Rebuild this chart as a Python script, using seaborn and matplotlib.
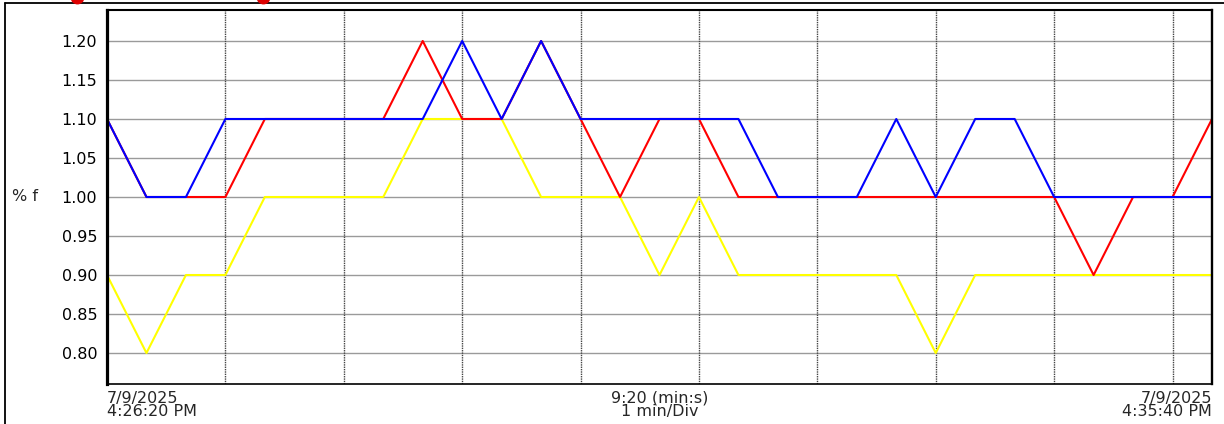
import numpy as np
import pandas as pd
import matplotlib
matplotlib.use("Agg")
import matplotlib.pyplot as plt
import seaborn as sns

sns.set_style("white")
plt.rcParams["font.family"] = ["DejaVu Sans"]

# seconds since 4:26:20 PM, one sample every 20 s
t_sec = list(range(0, 561, 20))

red_vals = [1.10, 1.00, 1.00, 1.00, 1.10, 1.10, 1.10, 1.10, 1.20, 1.10,
            1.10, 1.20, 1.10, 1.00, 1.10, 1.10, 1.00, 1.00, 1.00, 1.00,
            1.00, 1.00, 1.00, 1.00, 1.00, 0.90, 1.00, 1.00, 1.10]
blue_vals = [1.10, 1.00, 1.00, 1.10, 1.10, 1.10, 1.10, 1.10, 1.10, 1.20,
             1.10, 1.20, 1.10, 1.10, 1.10, 1.10, 1.10, 1.00, 1.00, 1.00,
             1.10, 1.00, 1.10, 1.10, 1.00, 1.00, 1.00, 1.00, 1.00]
yellow_vals = [0.90, 0.80, 0.90, 0.90, 1.00, 1.00, 1.00, 1.00, 1.10, 1.10,
               1.10, 1.00, 1.00, 1.00, 0.90, 1.00, 0.90, 0.90, 0.90, 0.90,
               0.90, 0.80, 0.90, 0.90, 0.90, 0.90, 0.90, 0.90, 0.90]

series_names = ["L3", "L1", "L2"]          # draw order: yellow, red, blue on top
series_colors = ["#ffff00", "#ff0000", "#0000ff"]
y_ticks = [0.80, 0.85, 0.90, 0.95, 1.00, 1.05, 1.10, 1.15, 1.20]

left_label = "7/9/2025\n4:26:20 PM"
mid_label = "9:20 (min:s)\n1 min/Div"
right_label = "7/9/2025\n4:35:40 PM"

df = pd.concat([
    pd.DataFrame({"t": t_sec, "value": yellow_vals, "series": "L3"}),
    pd.DataFrame({"t": t_sec, "value": red_vals, "series": "L1"}),
    pd.DataFrame({"t": t_sec, "value": blue_vals, "series": "L2"}),
])

W, H = 1224, 424
fig = plt.figure(figsize=(W / 100, H / 100), dpi=100)
ax = fig.add_axes([107 / W, 40 / H, 1105 / W, 374 / H])

# grid
for y in y_ticks:
    ax.axhline(y, color="#9a9a9a", lw=1.0, zorder=0)
for x in range(60, 560, 60):
    ax.axvline(x, color="#444444", lw=1.0, ls=(0, (1, 0.7)), zorder=0)

sns.lineplot(data=df, x="t", y="value", hue="series", hue_order=series_names,
             palette=series_colors, legend=False, lw=1.5, ax=ax)

ax.set_xlim(0, 560)
ax.set_ylim(0.7603, 1.2397)
ax.set_yticks(y_ticks)
ax.set_yticklabels([f"{v:.2f}" for v in y_ticks])
ax.set_xticks([])
ax.set_xlabel("")
ax.set_ylabel("")
ax.tick_params(axis="y", length=0, pad=7, labelsize=11.5, labelcolor="black")

for side, w in [("left", 2.3), ("top", 1.5), ("right", 1.7), ("bottom", 1.2)]:
    ax.spines[side].set_visible(True)
    ax.spines[side].set_color("black")
    ax.spines[side].set_linewidth(w)

txt = dict(fontsize=11.5, va="top", linespacing=0.85, transform=ax.transAxes)
ax.text(0.0, -0.018, left_label, ha="left", **txt)
ax.text(0.5, -0.018, mid_label, ha="center", multialignment="center", **txt)
ax.text(1.0, -0.018, right_label, ha="right", multialignment="right", **txt)

fig.text(12 / W, 1 - 197 / H, "% f", fontsize=11.5, va="center", ha="left")

# outer frame (partly outside the image)
fig.add_artist(plt.Line2D([5 / W, 1.0], [1 - 3 / H, 1 - 3 / H], color="black", lw=1.3))
fig.add_artist(plt.Line2D([5 / W, 5 / W], [0.0, 1 - 3 / H], color="black", lw=1.3))

# legend dots cut off at the top
fig.add_artist(plt.Line2D([77 / W, 263 / W], [1 + 3 / H, 1 + 3 / H], ls="none",
                          marker="o", ms=9, color="#dd0000"))

fig.savefig("out.png", dpi=100)
